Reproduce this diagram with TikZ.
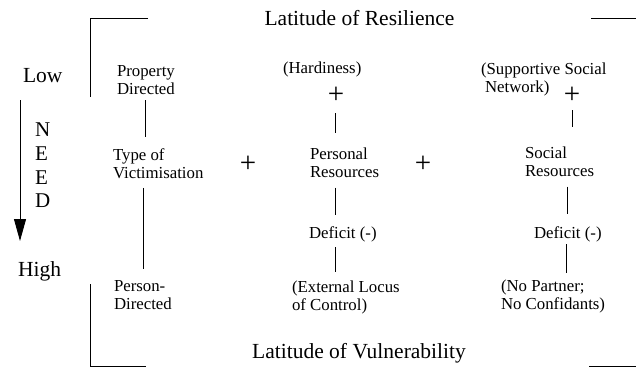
\documentclass[tikz,border=0pt]{standalone}
\usepackage{fontspec}
\setmainfont{Liberation Serif}
\usetikzlibrary{arrows.meta}
\begin{document}
\begin{tikzpicture}[x=1pt,y=-1pt,
  txt/.style={inner sep=0pt, outer sep=0pt, align=left, font=\fontsize{16.8}{18}\selectfont},
  big/.style={inner sep=0pt, outer sep=0pt, font=\fontsize{21.5}{24}\selectfont},
  plussign/.style={inner sep=0pt, outer sep=0pt, font=\fontsize{29}{30}\selectfont},
  conn/.style={line width=0.9pt},
  bracket/.style={line width=0.9pt},
]
\useasboundingbox (0,0) rectangle (636,376);

% titles
\node[big, anchor=base] (res) at (359.5,25) {Latitude of Resilience};
\node[big, anchor=base] (vul) at (359,358) {Latitude of Vulnerability};

% brackets
\draw[bracket] (148,18) -- (90,18) -- (90,97);
\draw[bracket] (591,18) -- (636,18);
\draw[bracket] (90,284) -- (90,366) -- (146,366);
\draw[bracket] (589,366) -- (636,366);

% need axis
\node[big, anchor=base west] (low) at (23,82) {Low};
\node[big, anchor=base west] (high) at (18,276) {High};
\node[inner sep=0pt, anchor=north west, align=left, font=\fontsize{21}{23.6}\selectfont] (need) at (35,123) {N\\E\\E\\D};
\coordinate (na) at (20,100);
\coordinate (nb) at (20,241);
\draw[conn, -{Triangle[length=22pt,width=12pt]}] (na) -- (nb);

% column 1
\node[txt, anchor=north west] (pd) at (117,65) {Property\\Directed};
\node[txt, anchor=north west] (tv) at (113,148.7) {Type of\\Victimisation};
\node[txt, anchor=north west] (pdir) at (114,280) {Person-\\Directed};

% column 2
\node[txt, anchor=base west] (hard) at (283,73) {(Hardiness)};
\node[plussign] (p2) at (336,95) {+};
\node[txt, anchor=north west] (pr) at (310,147.7) {Personal\\Resources};
\node[txt, anchor=base west] (def2) at (309,238) {Deficit (-)};
\node[txt, anchor=north west] (elc) at (292,280.5) {(External Locus\\of Control)};

% column 3
\node[txt, anchor=north west] (ssn) at (481,62.5) {(Supportive Social\\\hspace*{4pt}Network)};
\node[plussign] (p3) at (572,95) {+};
\node[txt, anchor=north west] (sr) at (525,146.7) {Social\\Resources};
\node[txt, anchor=base west] (def3) at (534,238) {Deficit (-)};
\node[txt, anchor=north west] (npc) at (501,279.5) {(No Partner;\\No Confidants)};

% joining pluses
\node[plussign] (pa) at (248,164) {+};
\node[plussign] (pb) at (423,164) {+};

% column line positions
\coordinate (l1a) at (145,0);
\coordinate (l1b) at (143,0);
\coordinate (l2) at (335.5,0);
\coordinate (l3a) at (572,0);
\coordinate (l3b) at (567,0);
\coordinate (l3c) at (566,0);

% connectors
\draw[conn, shorten <=6pt, shorten >=11.5pt] (pd.south -| l1a) -- (tv.north -| l1a);
\draw[conn, shorten <=9pt, shorten >=11pt] (tv.south -| l1b) -- (pdir.north -| l1b);
\draw[conn, shorten <=18pt, shorten >=14.5pt] (p2.center -| l2) -- (pr.north -| l2);
\draw[conn, shorten <=10pt, shorten >=11.5pt] (pr.south -| l2) -- (def2.north -| l2);
\draw[conn, shorten <=5.5pt, shorten >=8.5pt] (def2.south -| l2) -- (elc.north -| l2);
\draw[conn, shorten <=15pt, shorten >=20pt] (p3.center -| l3a) -- (sr.north -| l3a);
\draw[conn, shorten <=10pt, shorten >=12.5pt] (sr.south -| l3b) -- (def3.north -| l3b);
\draw[conn, shorten <=2.5pt, shorten >=6.5pt] (def3.south -| l3c) -- (npc.north -| l3c);
\end{tikzpicture}
\end{document}
